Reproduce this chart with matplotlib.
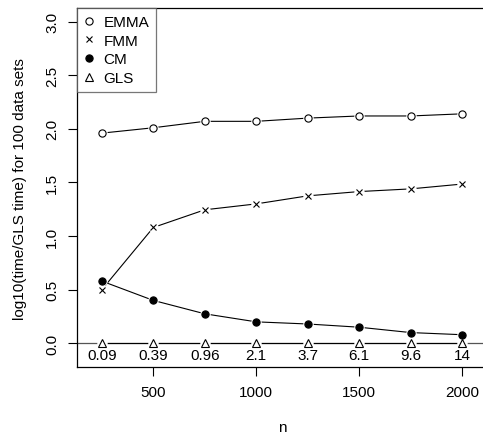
import numpy as np
import matplotlib
matplotlib.use("Agg")
import matplotlib.pyplot as plt

plt.rcParams['font.family'] = ['Liberation Sans', 'DejaVu Sans']

n = [250, 500, 750, 1000, 1250, 1500, 1750, 2000]
emma = [1.96, 2.01, 2.07, 2.07, 2.10, 2.12, 2.12, 2.14]
fmm = [0.50, 1.08, 1.245, 1.30, 1.375, 1.415, 1.44, 1.485]
cm = [0.58, 0.40, 0.275, 0.20, 0.18, 0.15, 0.10, 0.08]
gls = [0, 0, 0, 0, 0, 0, 0, 0]
gls_time = ["0.09", "0.39", "0.96", "2.1", "3.7", "6.1", "9.6", "14"]

fs = 11

fig = plt.figure(figsize=(4.83, 4.35), dpi=100)
ax = fig.add_axes([0.1588, 0.1533, 0.850, 0.8253])

ax.axhline(0, color='#555555', lw=0.9, zorder=1)

series = [(emma, 'o', 'white', 'EMMA'),
          (fmm, 'x', 'black', 'FMM'),
          (cm, 'o', 'black', 'CM'),
          (gls, '^', 'white', 'GLS')]
handles = []
for y, m, fc, lab in series:
    ax.plot(n, y, color='black', lw=0.8, zorder=2)
    # gap around points like R type="b"
    ax.plot(n, y, ls='none', marker='o', ms=7.5, mfc='white', mec='none', zorder=3)
    h, = ax.plot(n, y, ls='none', marker=m, ms=5.2 if m != 'x' else 5,
                 mfc=fc, mec='black', mew=0.8, zorder=4, label=lab)
    handles.append(h)

for x, t in zip(n, gls_time):
    ax.annotate(t, (x, 0), xytext=(0, -3.5), textcoords='offset points',
                ha='center', va='top', fontsize=fs)

ax.set_xlim(128, 2122)
ax.set_ylim(-0.224, 3.124)
ax.set_xticks([500, 1000, 1500, 2000])
ax.set_yticks([0.0, 0.5, 1.0, 1.5, 2.0, 2.5, 3.0])
ax.set_yticklabels(["0.0", "0.5", "1.0", "1.5", "2.0", "2.5", "3.0"],
                   rotation=90, va='center')
ax.tick_params(direction='out', length=6.5, width=0.8, labelsize=fs, pad=6)
for s in ax.spines.values():
    s.set_linewidth(0.9)

ax.set_xlabel("n", fontsize=fs, labelpad=15)
ax.set_ylabel("log10(time/GLS time) for 100 data sets", fontsize=fs, labelpad=13)

leg = ax.legend(handles=handles, loc='upper left', bbox_to_anchor=(0, 1),
                frameon=True, fancybox=False, borderaxespad=0, fontsize=fs,
                handlelength=0.7, handletextpad=0.6, labelspacing=0.3,
                borderpad=0.45)
leg.get_frame().set_edgecolor('#555555')
leg.get_frame().set_linewidth(0.9)

fig.savefig("out.png", dpi=100)
